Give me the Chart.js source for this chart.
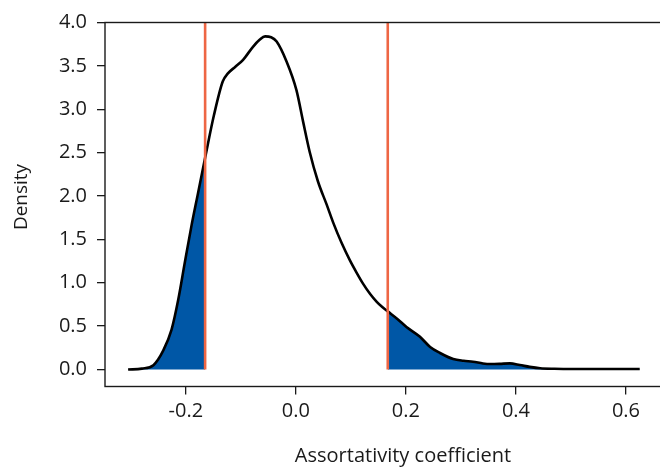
<!DOCTYPE html>
<html>
<head>
<meta charset="utf-8">
<script src="https://cdn.jsdelivr.net/npm/chart.js@4.4.1/dist/chart.umd.min.js"></script>
<style>
html,body{margin:0;padding:0;background:#ffffff;overflow:hidden;}
#wrap{width:660px;height:468px;position:relative;overflow:hidden;}
</style>
</head>
<body>
<div id="wrap"><canvas id="c" width="720" height="468"></canvas></div>
<script>
// ---- data ----
const densX = [-0.305, -0.280, -0.259, -0.241, -0.226, -0.214, -0.202, -0.190, -0.178, -0.165,
               -0.149, -0.133, -0.124, -0.110, -0.096, -0.078, -0.066, -0.056, -0.045, -0.035,
               -0.017, 0.001, 0.013, 0.025, 0.040, 0.056, 0.068, 0.083, 0.098, 0.110,
               0.122, 0.135, 0.147, 0.157, 0.167, 0.185, 0.201, 0.225, 0.244, 0.262,
               0.286, 0.305, 0.322, 0.340, 0.353, 0.370, 0.389, 0.407, 0.425, 0.444,
               0.470, 0.498, 0.550, 0.600, 0.625];
const densY = [0.000, 0.010, 0.050, 0.220, 0.460, 0.800, 1.230, 1.650, 2.030, 2.440,
               2.930, 3.320, 3.410, 3.490, 3.570, 3.720, 3.800, 3.840, 3.830, 3.780,
               3.550, 3.220, 2.860, 2.510, 2.170, 1.900, 1.690, 1.460, 1.260, 1.120,
               0.990, 0.870, 0.780, 0.720, 0.670, 0.580, 0.490, 0.380, 0.260, 0.190,
               0.120, 0.100, 0.090, 0.070, 0.063, 0.065, 0.070, 0.052, 0.030, 0.014,
               0.008, 0.006, 0.005, 0.005, 0.005];
const cutLow = -0.165;
const cutHigh = 0.167;
const xTickVals = [-0.2, 0.0, 0.2, 0.4, 0.6];
const yTickVals = [0.0, 0.5, 1.0, 1.5, 2.0, 2.5, 3.0, 3.5, 4.0];
const xTitle = 'Assortativity coefficient';
const yTitle = 'Density';

// ---- build datasets ----
const curve = densX.map((x, i) => ({x: x, y: densY[i]}));
const lowTail = curve.filter(p => p.x <= cutLow + 1e-9);
const highTail = curve.filter(p => p.x >= cutHigh - 1e-9);
const yTop = yTickVals[yTickVals.length - 1];

const FONT = '"Open Sans", Lato, sans-serif';
const INK = '#1a1a1a';
const BLUE = '#0057a6';
const RED = '#ee6644';

// frame (box) around the plot region; its right side lies outside the visible window
const framePlugin = {
  id: 'frame',
  afterDraw(chart) {
    const a = chart.chartArea, ctx = chart.ctx;
    ctx.save();
    ctx.strokeStyle = INK;
    ctx.lineWidth = 1.4;
    ctx.strokeRect(a.left, a.top, a.right - a.left, a.bottom - a.top);
    // y-axis title, centred a little above the plot-region middle as in the reference
    ctx.fillStyle = INK;
    ctx.font = '19px ' + FONT;
    ctx.textAlign = 'center';
    ctx.textBaseline = 'middle';
    ctx.translate(22, 197);
    ctx.rotate(-Math.PI / 2);
    ctx.fillText(yTitle, 0, 0);
    ctx.restore();
  }
};

new Chart(document.getElementById('c'), {
  type: 'line',
  data: {
    datasets: [
      {data: [{x: cutLow, y: 0}, {x: cutLow, y: yTop}], borderColor: RED, borderWidth: 2.6, pointRadius: 0, fill: false, tension: 0},
      {data: [{x: cutHigh, y: 0}, {x: cutHigh, y: yTop}], borderColor: RED, borderWidth: 2.6, pointRadius: 0, fill: false, tension: 0},
      {data: curve, borderColor: '#000000', borderWidth: 2.6, pointRadius: 0, fill: false, cubicInterpolationMode: 'monotone'},
      {data: lowTail, borderWidth: 0, borderColor: 'rgba(0,0,0,0)', backgroundColor: BLUE, pointRadius: 0, fill: 'origin', cubicInterpolationMode: 'monotone'},
      {data: highTail, borderWidth: 0, borderColor: 'rgba(0,0,0,0)', backgroundColor: BLUE, pointRadius: 0, fill: 'origin', cubicInterpolationMode: 'monotone'}
    ]
  },
  options: {
    responsive: false,
    animation: false,
    devicePixelRatio: 1,
    layout: {padding: {top: 22.5, right: 19, left: 0, bottom: 0}},
    plugins: {legend: {display: false}, tooltip: {enabled: false}},
    scales: {
      x: {
        type: 'linear',
        min: -0.347,
        max: 0.7364,
        afterBuildTicks: s => { s.ticks = xTickVals.map(v => ({value: v})); },
        afterFit: s => { s.height = 468 - 386.5; },
        border: {display: false},
        grid: {display: true, drawOnChartArea: false, drawTicks: true, tickLength: 8, color: INK, lineWidth: 1.3},
        ticks: {color: INK, padding: 5, font: {family: FONT, size: 20}, callback: v => v.toFixed(1)},
        title: {display: true, text: xTitle, color: INK, font: {family: FONT, size: 20}, padding: {top: 0, bottom: 0}}
      },
      y: {
        type: 'linear',
        min: -0.196,
        max: 4.0,
        afterBuildTicks: s => { s.ticks = yTickVals.map(v => ({value: v})); },
        afterFit: s => { s.width = 105; },
        border: {display: false},
        grid: {display: true, drawOnChartArea: false, drawTicks: true, tickLength: 8, color: INK, lineWidth: 1.3},
        ticks: {color: INK, padding: 10, font: {family: FONT, size: 20}, callback: v => v.toFixed(1)},
        title: {display: false}
      }
    }
  },
  plugins: [framePlugin]
});
</script>
</body>
</html>
